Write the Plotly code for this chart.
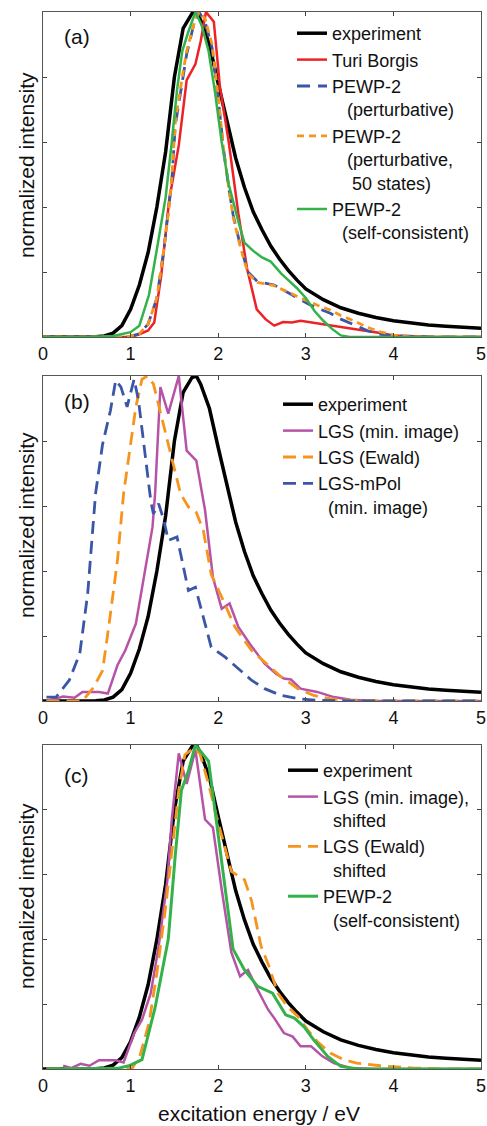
import plotly.graph_objects as go
from plotly.subplots import make_subplots

# ---------------- data ----------------
# experiment (same in all panels)
exp_E = [0, 0.2, 0.4, 0.6, 0.7, 0.8, 0.9, 1.0, 1.1, 1.2, 1.3, 1.4, 1.5, 1.6, 1.7, 1.75, 1.8, 1.9,
         2.0, 2.1, 2.2, 2.3, 2.4, 2.5, 2.6, 2.7, 2.8, 2.9, 3.0, 3.2, 3.4, 3.6, 3.8, 4.0, 4.2,
         4.4, 4.6, 4.8, 5.0]
exp_I = [0, 0, 0, 0.001, 0.003, 0.012, 0.035, 0.085, 0.16, 0.26, 0.40, 0.57, 0.80, 0.95, 0.995,
         1.0, 0.975, 0.90, 0.78, 0.66, 0.55, 0.46, 0.385, 0.33, 0.28, 0.24, 0.205, 0.175, 0.148,
         0.115, 0.09, 0.073, 0.06, 0.05, 0.043, 0.037, 0.033, 0.030, 0.027]

# panel (a)
tb_E = [0, 0.5, 1.0, 1.1, 1.2, 1.27, 1.35, 1.44, 1.55, 1.64, 1.74, 1.8, 1.86, 1.95, 2.02, 2.12,
        2.23, 2.33, 2.44, 2.54, 2.64, 2.74, 2.84, 2.94, 3.04, 3.14, 3.28, 3.45, 3.66, 3.85, 4.0,
        4.5, 5.0]
tb_I = [0, 0, 0, 0.008, 0.02, 0.045, 0.19, 0.42, 0.59, 0.79, 0.84, 0.91, 1.0, 0.97, 0.77, 0.60,
        0.38, 0.21, 0.085, 0.055, 0.035, 0.046, 0.045, 0.05, 0.046, 0.043, 0.037, 0.03, 0.02,
        0.012, 0.005, 0, 0]

pp_E = [0, 0.5, 0.9, 1.0, 1.1, 1.2, 1.3, 1.38, 1.44, 1.47, 1.51, 1.59, 1.64, 1.72, 1.78, 1.85,
        1.93, 2.0, 2.06, 2.12, 2.17, 2.25, 2.34, 2.45, 2.55, 2.64, 2.74, 2.84, 2.94, 3.04, 3.14,
        3.28, 3.4, 3.55, 3.7, 3.81, 4.0, 4.5, 5.0]
pp_I = [0, 0, 0, 0.003, 0.01, 0.04, 0.12, 0.27, 0.40, 0.48, 0.65, 0.79, 0.87, 0.96, 1.0, 0.97,
        0.89, 0.735, 0.58, 0.46, 0.376, 0.284, 0.20, 0.17, 0.165, 0.16, 0.145, 0.13, 0.115,
        0.10, 0.088, 0.073, 0.055, 0.037, 0.02, 0.01, 0.003, 0, 0]

p50_E = [0, 0.5, 0.9, 1.0, 1.1, 1.2, 1.3, 1.38, 1.44, 1.47, 1.51, 1.59, 1.64, 1.72, 1.78, 1.85,
         1.93, 2.0, 2.06, 2.12, 2.17, 2.25, 2.34, 2.45, 2.55, 2.64, 2.74, 2.84, 2.94, 3.04, 3.14,
         3.28, 3.4, 3.55, 3.7, 3.85, 4.0, 4.2, 5.0]
p50_I = [0, 0, 0, 0.003, 0.01, 0.04, 0.12, 0.27, 0.40, 0.49, 0.66, 0.80, 0.88, 0.96, 1.0, 0.98,
         0.90, 0.74, 0.58, 0.46, 0.37, 0.28, 0.195, 0.168, 0.163, 0.158, 0.145, 0.132, 0.12,
         0.108, 0.097, 0.083, 0.066, 0.05, 0.03, 0.016, 0.006, 0, 0]

sc_a_E = [0, 0.5, 0.8, 0.9, 1.0, 1.1, 1.21, 1.3, 1.4, 1.47, 1.53, 1.59, 1.66, 1.74, 1.81, 1.89,
          1.96, 2.04, 2.12, 2.23, 2.3, 2.4, 2.5, 2.6, 2.72, 2.8, 2.9, 3.0, 3.1, 3.2, 3.3, 3.4,
          3.5, 4.0, 5.0]
sc_a_I = [0, 0, 0.003, 0.008, 0.015, 0.035, 0.13, 0.27, 0.43, 0.60, 0.76, 0.88, 0.94, 1.0, 0.96,
          0.88, 0.76, 0.60, 0.47, 0.356, 0.29, 0.265, 0.245, 0.232, 0.195, 0.175, 0.15, 0.12,
          0.08, 0.05, 0.025, 0.005, 0, 0, 0]

# panel (b)
lgs_E = [0.04, 0.23, 0.36, 0.45, 0.64, 0.74, 0.85, 0.94, 1.06, 1.15, 1.25, 1.28, 1.34, 1.43,
         1.55, 1.64, 1.75, 1.85, 1.94, 2.04, 2.13, 2.23, 2.36, 2.53, 2.66, 2.75, 2.83, 2.94,
         3.13, 3.32, 3.51, 3.8, 4.2, 5.0]
lgs_I = [0, 0.014, 0.01, 0.028, 0.028, 0.023, 0.11, 0.156, 0.238, 0.38, 0.535, 0.64, 0.966,
         0.884, 1.0, 0.77, 0.74, 0.587, 0.38, 0.284, 0.30, 0.228, 0.176, 0.115, 0.084, 0.069,
         0.066, 0.038, 0.028, 0.012, 0.004, 0, 0, 0]

ew_E = [0.04, 0.45, 0.58, 0.68, 0.75, 0.85, 0.92, 1.0, 1.06, 1.13, 1.19, 1.26, 1.38, 1.47, 1.57,
        1.66, 1.75, 1.83, 1.92, 2.04, 2.19, 2.38, 2.53, 2.72, 2.91, 3.09, 3.28, 3.5, 4.0, 5.0]
ew_I = [0, 0, 0.043, 0.094, 0.228, 0.433, 0.638, 0.79, 0.905, 0.99, 1.0, 0.976, 0.843, 0.74,
        0.638, 0.597, 0.58, 0.525, 0.39, 0.32, 0.228, 0.156, 0.12, 0.074, 0.038, 0.017, 0.007,
        0.002, 0, 0]

mp_E = [0.04, 0.15, 0.30, 0.42, 0.51, 0.60, 0.68, 0.77, 0.83, 0.89, 0.96, 1.04, 1.09, 1.17,
        1.23, 1.26, 1.32, 1.38, 1.43, 1.53, 1.60, 1.66, 1.74, 1.81, 1.92, 2.08, 2.23, 2.38,
        2.53, 2.72, 2.91, 3.13, 3.5, 4.0, 5.0]
mp_I = [0.012, 0.012, 0.064, 0.146, 0.33, 0.638, 0.79, 0.894, 0.987, 0.966, 0.905, 0.99, 0.925,
        0.74, 0.617, 0.576, 0.607, 0.556, 0.494, 0.505, 0.412, 0.34, 0.35, 0.279, 0.166, 0.135,
        0.10, 0.064, 0.038, 0.017, 0.007, 0.002, 0, 0, 0]

# panel (c)
lgs_s_E = [0.23, 0.32, 0.43, 0.53, 0.64, 0.83, 0.92, 1.04, 1.13, 1.23, 1.32, 1.42, 1.47, 1.55,
           1.64, 1.74, 1.85, 1.94, 2.04, 2.15, 2.25, 2.34, 2.45, 2.57, 2.64, 2.75, 2.85, 2.94,
           3.06, 3.19, 3.32, 3.51, 3.8, 4.2, 5.0]
lgs_s_I = [0.01, 0.003, 0.016, 0.01, 0.027, 0.027, 0.02, 0.11, 0.152, 0.234, 0.378, 0.583, 0.77,
           0.974, 0.88, 0.985, 0.77, 0.745, 0.554, 0.36, 0.286, 0.306, 0.245, 0.183, 0.157,
           0.111, 0.10, 0.07, 0.07, 0.039, 0.018, 0.003, 0, 0, 0]

ew_s_E = [0.04, 0.9, 1.02, 1.11, 1.21, 1.30, 1.40, 1.47, 1.55, 1.62, 1.72, 1.79, 1.89, 1.98,
          2.08, 2.15, 2.30, 2.38, 2.49, 2.58, 2.68, 2.79, 2.91, 3.02, 3.13, 3.28, 3.43, 3.58,
          3.85, 4.23, 4.6, 5.0]
ew_s_I = [0, 0, 0.003, 0.044, 0.142, 0.296, 0.50, 0.676, 0.86, 0.97, 0.99, 0.974, 0.88, 0.78,
          0.676, 0.61, 0.584, 0.52, 0.378, 0.317, 0.234, 0.193, 0.162, 0.121, 0.085, 0.049,
          0.029, 0.018, 0.01, 0.003, 0, 0]

sc_c_E = [0.04, 0.7, 0.85, 0.98, 1.13, 1.28, 1.43, 1.51, 1.58, 1.66, 1.74, 1.89, 2.0, 2.08,
          2.17, 2.30, 2.45, 2.62, 2.77, 2.87, 2.98, 3.09, 3.25, 3.40, 3.6, 4.0, 5.0]
sc_c_I = [0, 0, 0.002, 0.01, 0.029, 0.19, 0.40, 0.66, 0.86, 0.92, 1.0, 0.95, 0.72, 0.55, 0.37,
          0.306, 0.255, 0.234, 0.167, 0.157, 0.13, 0.09, 0.039, 0.008, 0, 0, 0]

x_ticks = [0, 1, 2, 3, 4, 5]
panel_labels = ["(a)", "(b)", "(c)"]
y_title = "normalized intensity"
x_title = "excitation energy / eV"

# ---------------- styles ----------------
BLACK = "#000000"
RED = "#ED2227"
BLUE = "#3A56A6"
ORANGE = "#F7941D"
GREEN = "#34B24A"
MAGENTA = "#B653A6"
NB = "\u00a0"
FONT = "Liberation Sans, Arial, Helvetica, sans-serif"
TXT = "#111111"

fig = make_subplots(rows=3, cols=1)


def add(x, y, name, color, width, dash, row, legend):
    fig.add_trace(go.Scatter(x=x, y=y, mode="lines", name=name,
                             line=dict(color=color, width=width, dash=dash),
                             legend=legend), row=row, col=1)


# panel a
add(exp_E, exp_I, "experiment", BLACK, 3.5, "solid", 1, "legend")
add(tb_E, tb_I, "Turi Borgis", RED, 2.5, "solid", 1, "legend")
add(pp_E, pp_I, "PEWP-2<br>" + NB * 3 + "(perturbative)", BLUE, 2.8, "13px,8px", 1, "legend")
add(p50_E, p50_I, "PEWP-2<br>" + NB * 3 + "(perturbative,<br>" + NB * 4 + "50 states)",
    ORANGE, 2.8, "7px,5px", 1, "legend")
add(sc_a_E, sc_a_I, "PEWP-2<br>" + NB * 2 + "(self-consistent)", GREEN, 2.5, "solid", 1, "legend")

# panel b
add(exp_E, exp_I, "experiment", BLACK, 3.5, "solid", 2, "legend2")
add(lgs_E, lgs_I, "LGS (min. image)", MAGENTA, 2.5, "solid", 2, "legend2")
add(ew_E, ew_I, "LGS (Ewald)", ORANGE, 2.8, "13px,7px", 2, "legend2")
add(mp_E, mp_I, "LGS-mPol<br>" + NB * 2 + "(min. image)", BLUE, 2.8, "13px,7px", 2, "legend2")

# panel c
add(exp_E, exp_I, "experiment", BLACK, 3.5, "solid", 3, "legend3")
add(lgs_s_E, lgs_s_I, "LGS (min. image),<br>" + NB * 2 + "shifted", MAGENTA, 2.5, "solid", 3, "legend3")
add(ew_s_E, ew_s_I, "LGS (Ewald)<br>" + NB * 2 + "shifted", ORANGE, 2.8, "13px,7px", 3, "legend3")
add(sc_c_E, sc_c_I, "PEWP-2<br>" + NB * 2 + "(self-consistent)", GREEN, 3.0, "solid", 3, "legend3")

W, H = 487, 1126
ml, mr, mt, mb = 43, 6, 12, 57
pw, ph = W - ml - mr, H - mt - mb


def py(p):
    return (H - mb - p) / ph


def px(p):
    return (p - ml) / pw


domains = [[py(337), 1.0], [py(701), py(376)], [0.0, py(745)]]
for i in range(3):
    n = "" if i == 0 else str(i + 1)
    fig.layout["xaxis" + n].update(
        range=[0, 5], tickvals=x_ticks, ticks="inside", ticklen=4, tickcolor="#444",
        showline=True, linecolor="#555", linewidth=1, mirror="ticks", showgrid=False,
        zeroline=False, tickfont=dict(size=18, color=TXT), ticklabeloverflow="allow")
    fig.layout["yaxis" + n].update(
        domain=domains[i], range=[0, 1.0], dtick=0.2, tick0=0, ticks="inside", ticklen=4,
        tickcolor="#444", showline=True, linecolor="#555", linewidth=1, mirror="ticks",
        showgrid=False, zeroline=False, showticklabels=False)

# axis titles (placed as annotations to match the original offsets)
y_title_centers = [165, 525, 896]
for yc in y_title_centers:
    fig.add_annotation(text=y_title, xref="paper", yref="paper", x=px(26), y=py(yc),
                       textangle=-90, showarrow=False, xanchor="center", yanchor="middle",
                       font=dict(size=21, color=TXT))
fig.add_annotation(text=x_title, xref="paper", yref="paper", x=px(259), y=py(1113),
                   showarrow=False, xanchor="center", yanchor="middle",
                   font=dict(size=21, color=TXT))

label_y = [0.926, 0.923, 0.907]
for i in range(3):
    n = "" if i == 0 else str(i + 1)
    fig.add_annotation(text=panel_labels[i], xref="x" + n + " domain", yref="y" + n + " domain",
                       x=0.077, y=label_y[i], showarrow=False, xanchor="center",
                       yanchor="middle", font=dict(size=21, color=TXT))

leg_common = dict(xanchor="left", yanchor="top", bgcolor="rgba(0,0,0,0)", borderwidth=0,
                  font=dict(size=18, color=TXT, family=FONT), valign="top",
                  tracegroupgap=0)
fig.update_layout(
    width=W, height=H,
    margin=dict(l=ml, r=mr, t=mt, b=mb, autoexpand=False),
    paper_bgcolor="white", plot_bgcolor="white",
    font=dict(family=FONT, color=TXT),
    showlegend=True,
    legend=dict(x=px(292), y=py(15), **leg_common),
    legend2=dict(x=px(278), y=py(386), **leg_common),
    legend3=dict(x=px(283), y=py(752), **leg_common),
)

fig.write_html("out.html")
